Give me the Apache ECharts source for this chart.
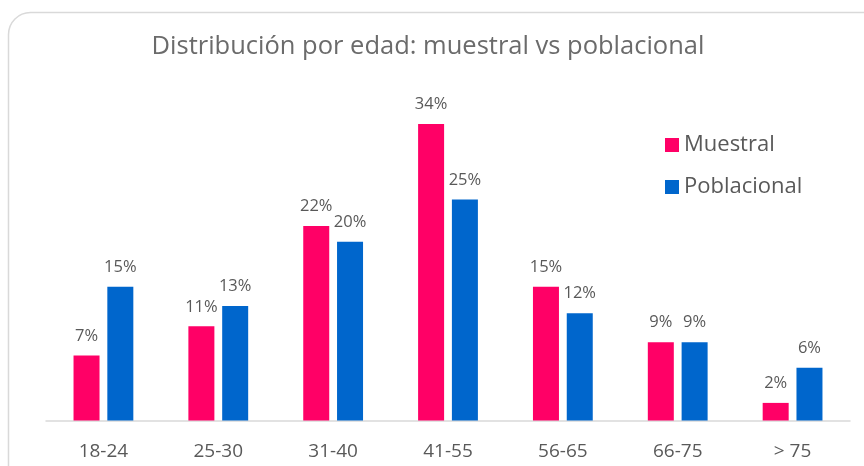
<!DOCTYPE html>
<html>
<head>
<meta charset="utf-8">
<script src="https://cdn.jsdelivr.net/npm/echarts@6/dist/echarts.min.js"></script>
<style>
  html, body { margin: 0; padding: 0; background: #fff; }
  #chart { width: 864px; height: 466px; }
</style>
</head>
<body>
<div id="chart"></div>
<script>
// datos (porcentajes)
var categorias = ['18-24', '25-30', '31-40', '41-55', '56-65', '66-75', '> 75'];
var muestral = [7.4, 10.7, 22.1, 33.7, 15.2, 8.9, 2.0];
var poblacional = [15.2, 13.0, 20.3, 25.1, 12.2, 8.9, 6.0];

var gris = '#595959';
var fuente = '"Open Sans", "Noto Sans", sans-serif';

var myChart = echarts.init(document.getElementById('chart'));
myChart.setOption({
  animation: false,
  textStyle: { fontFamily: fuente },
  graphic: [{
    type: 'rect',
    shape: { x: 8.5, y: 12.5, width: 880, height: 480, r: 22 },
    style: { fill: 'none', stroke: '#d9d9d9', lineWidth: 1.5 },
    z: -1
  }],
  title: {
    text: 'Distribución por edad: muestral vs poblacional',
    left: 423,
    textAlign: 'center',
    top: 29,
    textStyle: { color: '#6b6b6b', fontSize: 25.5, fontWeight: 'normal', fontFamily: fuente }
  },
  legend: {
    orient: 'vertical',
    left: 660,
    top: 129,
    itemWidth: 14,
    itemHeight: 14,
    itemGap: 20,
    icon: 'rect',
    textStyle: { color: gris, fontSize: 22, fontFamily: fuente },
    data: ['Muestral', 'Poblacional']
  },
  grid: {
    left: 46,
    right: 14,
    top: 68.5,
    bottom: 45.5,
    containLabel: false
  },
  xAxis: {
    type: 'category',
    data: categorias,
    axisLine: { lineStyle: { color: '#d9d9d9', width: 1.5 } },
    axisTick: { show: false },
    axisLabel: { color: gris, fontSize: 19, margin: 22, fontFamily: fuente }
  },
  yAxis: {
    type: 'value',
    min: 0,
    max: 40,
    show: false,
    splitLine: { show: false }
  },
  series: [
    {
      name: 'Muestral',
      type: 'bar',
      data: muestral,
      barWidth: 26,
      barGap: '30%',
      itemStyle: { color: '#ff0066' },
      label: {
        show: true,
        position: 'top',
        distance: 11,
        color: gris,
        fontSize: 16.5,
        fontFamily: fuente,
        formatter: function (p) { return Math.round(p.value) + '%'; }
      }
    },
    {
      name: 'Poblacional',
      type: 'bar',
      data: poblacional,
      barWidth: 26,
      itemStyle: { color: '#0066cc' },
      label: {
        show: true,
        position: 'top',
        distance: 11,
        color: gris,
        fontSize: 16.5,
        fontFamily: fuente,
        formatter: function (p) { return Math.round(p.value) + '%'; }
      }
    }
  ]
});
</script>
</body>
</html>
